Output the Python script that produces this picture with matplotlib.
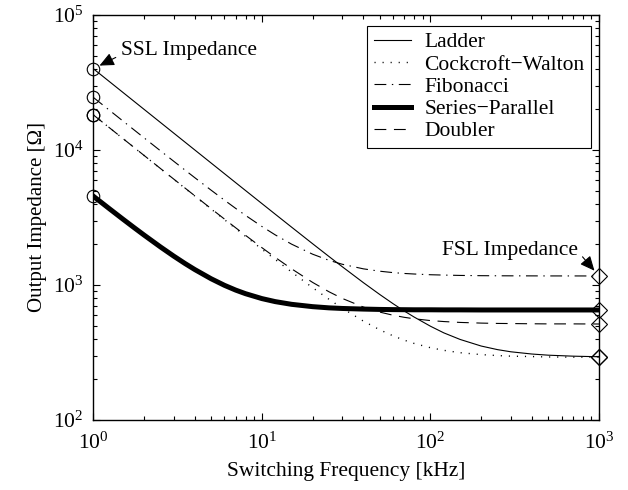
import math
import matplotlib
matplotlib.use("Agg")
import matplotlib.pyplot as plt
from matplotlib.ticker import LogLocator, FuncFormatter, NullFormatter

plt.rcParams['font.family'] = ['Liberation Serif', 'DejaVu Serif']
plt.rcParams['mathtext.fontset'] = 'custom'
plt.rcParams['mathtext.rm'] = 'Liberation Serif'
plt.rcParams['mathtext.it'] = 'Liberation Serif:italic'
plt.rcParams['lines.scale_dashes'] = False

freq = [1, 1.25, 1.5, 1.75, 2, 2.5, 3, 3.5, 4, 5, 6, 7, 8, 10, 12, 15, 20, 25, 30, 40, 50,
        60, 70, 80, 100, 120, 150, 200, 250, 300, 400, 500, 700, 1000]
ladder = [40001, 32001, 26669, 22859, 20002, 16003, 13336, 11432, 10004, 8005, 6673, 5721,
          5008, 4011, 3346, 2683, 2021, 1626, 1365, 1041, 851, 727, 641, 579, 495, 442, 395,
          353, 332, 320, 308, 302, 297, 294]
cockcroft = [18202, 14563, 12137, 10404, 9105, 7286, 6074, 5208, 4559, 3652, 3047, 2616,
             2294, 1843, 1545, 1248, 955, 784, 673, 540, 466, 420, 390, 369, 343, 328, 315,
             305, 300, 297, 295, 293, 292, 292]
fibonacci = [24528, 19635, 16375, 14048, 12305, 9869, 8250, 7096, 6235, 5037, 4247, 3689,
             3277, 2713, 2351, 2007, 1691, 1523, 1424, 1317, 1265, 1235, 1217, 1206, 1191,
             1184, 1177, 1172, 1170, 1169, 1168, 1167, 1167, 1166]
series_parallel = [4547, 3659, 3070, 2653, 2343, 1915, 1636, 1442, 1301, 1112, 994, 916,
                   862, 793, 753, 719, 691, 677, 670, 663, 659, 657, 656, 655, 655, 654, 654,
                   653, 653, 653, 653, 653, 653, 653]
doubler = [18207, 14569, 12144, 10413, 9115, 7298, 6088, 5225, 4579, 3676, 3077, 2650, 2332,
           1891, 1601, 1318, 1045, 891, 795, 686, 630, 597, 576, 562, 545, 536, 528, 522,
           519, 518, 516, 515, 515, 514]

names = ['Ladder', 'Cockcroft\u2212Walton', 'Fibonacci', 'Series\u2212Parallel', 'Doubler']
series = [ladder, cockcroft, fibonacci, series_parallel, doubler]
styles = [
    dict(linestyle='-', linewidth=0.8),
    dict(linestyle=(0, (0.8, 5.0)), linewidth=1.0),
    dict(linestyle=(0, (8.5, 4.0, 1.0, 4.0)), linewidth=0.8),
    dict(linestyle='-', linewidth=3.6),
    dict(linestyle=(0, (8.5, 5.5)), linewidth=0.8),
]

fig = plt.figure(figsize=(6.28, 4.90), dpi=100)
ax = fig.add_axes([0.1486, 0.1429, 0.8052, 0.8265])

for name, vals, st in zip(names, series, styles):
    ax.plot(freq, vals, color='black', label=name, **st)

for vals in series:
    ax.plot([freq[0]], [vals[0]], marker='o', markersize=9, markerfacecolor='none',
            markeredgecolor='black', markeredgewidth=0.8, linestyle='none', clip_on=False,
            zorder=5)
    ax.plot([freq[-1]], [vals[-1]], marker='D', markersize=8.5, markerfacecolor='none',
            markeredgecolor='black', markeredgewidth=0.8, linestyle='none', clip_on=False,
            zorder=5)

ax.set_xscale('log')
ax.set_yscale('log')
ax.set_xlim(1, 1000)
ax.set_ylim(100, 100000)

def fmt(v, pos):
    e = int(round(math.log10(v)))
    return r'$\mathregular{10^{%d}}$' % e

ax.xaxis.set_major_locator(LogLocator(base=10, numticks=10))
ax.yaxis.set_major_locator(LogLocator(base=10, numticks=10))
ax.xaxis.set_minor_locator(LogLocator(base=10, subs=range(2, 10), numticks=20))
ax.yaxis.set_minor_locator(LogLocator(base=10, subs=range(2, 10), numticks=20))
ax.xaxis.set_major_formatter(FuncFormatter(fmt))
ax.yaxis.set_major_formatter(FuncFormatter(fmt))
ax.xaxis.set_minor_formatter(NullFormatter())
ax.yaxis.set_minor_formatter(NullFormatter())
ax.tick_params(which='both', direction='in', top=True, right=True, labelsize=15.5, width=0.8)
ax.tick_params(which='major', length=5)
ax.tick_params(axis='x', which='major', pad=9)
ax.tick_params(axis='y', which='major', pad=7)
ax.tick_params(which='minor', length=3)
for sp in ax.spines.values():
    sp.set_linewidth(1.0)

ax.set_xlabel('Switching Frequency [kHz]', fontsize=15.5, labelpad=6)
ax.set_ylabel('Output Impedance [\u03a9]', fontsize=15, labelpad=4)

leg = ax.legend(loc='upper right', bbox_to_anchor=(0.984, 0.973), borderaxespad=0.0,
                fontsize=15.5, frameon=True, fancybox=False,
                edgecolor='black', framealpha=1, handlelength=1.75, handletextpad=0.6,
                borderpad=0.3, labelspacing=0.1)
leg.get_frame().set_linewidth(0.8)

ssl_arrow = dict(arrowstyle='-|>,head_length=0.55,head_width=0.25', color='black', lw=0.8,
                 mutation_scale=16, shrinkA=2, shrinkB=5, relpos=(0.0, 0.25))
fsl_arrow = dict(arrowstyle='-|>,head_length=0.55,head_width=0.25', color='black', lw=0.8,
                 mutation_scale=16, shrinkA=2, shrinkB=5, relpos=(1.0, 0.45))
ax.annotate('SSL Impedance', xy=(freq[0], ladder[0]), xytext=(1.46, 55000),
            fontsize=15.5, ha='left', va='center', arrowprops=ssl_arrow)
ax.annotate('FSL Impedance', xy=(freq[-1], fibonacci[-1]), xytext=(750, 1800),
            fontsize=15.5, ha='right', va='center', arrowprops=fsl_arrow)

fig.savefig('out.png', dpi=100)
